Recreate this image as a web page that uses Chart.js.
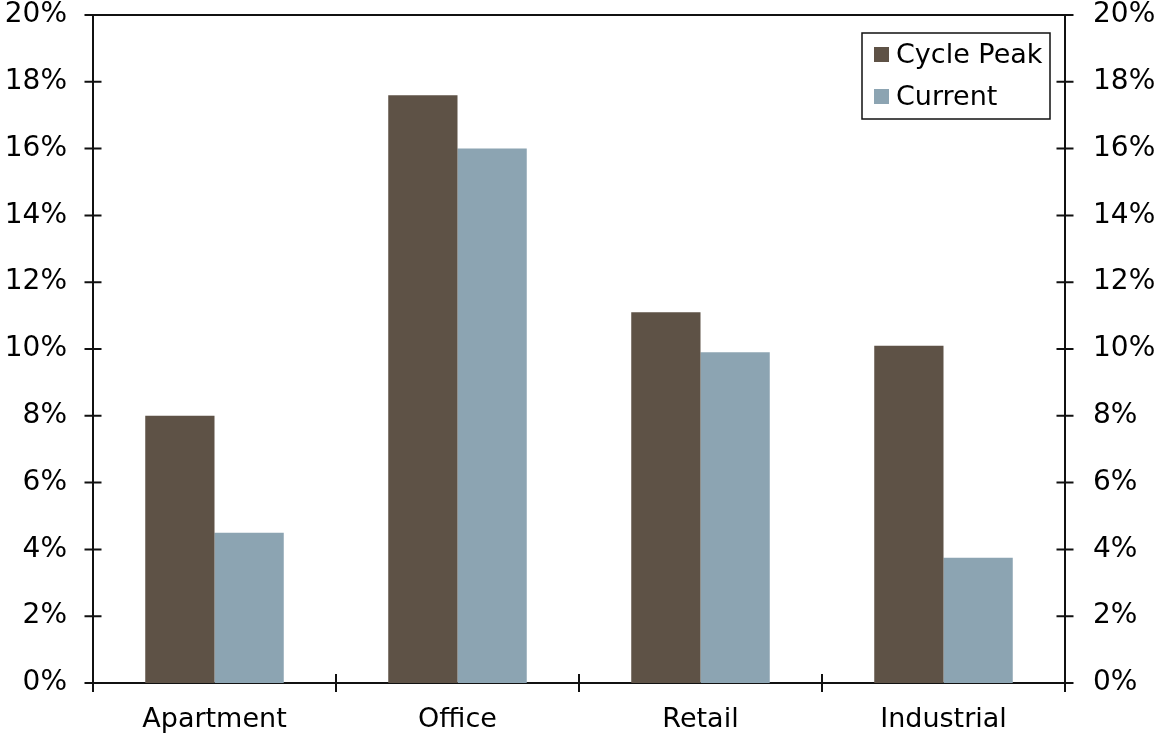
<!DOCTYPE html>
<html>
<head>
<meta charset="utf-8">
<title>Vacancy: Cycle Peak vs Current</title>
<script src="https://cdn.jsdelivr.net/npm/chart.js@4/dist/chart.umd.min.js"></script>
<style>
  html, body { margin: 0; padding: 0; background: #fff; }
  #wrap { width: 1157px; height: 735px; }
</style>
</head>
<body>
<div id="wrap"><canvas id="vacancyChart"></canvas></div>
<script>
const categories = ['Apartment', 'Office', 'Retail', 'Industrial'];
const cyclePeak = [8.0, 17.6, 11.1, 10.1];
const current = [4.5, 16.0, 9.9, 3.75];
const seriesNames = ['Cycle Peak', 'Current'];
const seriesColors = ['#5e5246', '#8ca4b2'];

const FONT = '"DejaVu Sans", Verdana, sans-serif';
const LINE = '#111';

// ticks that cross the axis lines, plus the top edge of the frame
const crossTicks = {
  id: 'crossTicks',
  afterDraw(chart) {
    const ctx = chart.ctx;
    const a = chart.chartArea;
    ctx.save();
    ctx.strokeStyle = LINE;
    ctx.lineWidth = 2;
    ctx.beginPath();
    ctx.moveTo(a.left, a.top);
    ctx.lineTo(a.right, a.top);
    const y = chart.scales.y;
    y.ticks.forEach((t, i) => {
      const py = y.getPixelForTick(i);
      ctx.moveTo(a.left - 8.5, py); ctx.lineTo(a.left + 8.5, py);
      ctx.moveTo(a.right - 8.5, py); ctx.lineTo(a.right + 8.5, py);
    });
    for (let i = 0; i <= categories.length; i++) {
      const px = a.left + (a.right - a.left) * i / categories.length;
      ctx.moveTo(px, a.bottom - 9); ctx.lineTo(px, a.bottom + 9);
    }
    ctx.stroke();
    ctx.restore();
  }
};

// boxed legend in the upper right of the plot
const boxLegend = {
  id: 'boxLegend',
  afterDraw(chart) {
    const ctx = chart.ctx;
    const a = chart.chartArea;
    const w = 188, h = 86;
    const x0 = a.right - 15 - w, y0 = a.top + 18;
    ctx.save();
    ctx.fillStyle = '#fff';
    ctx.fillRect(x0, y0, w, h);
    ctx.strokeStyle = LINE;
    ctx.lineWidth = 1.5;
    ctx.strokeRect(x0, y0, w, h);
    ctx.font = '27px ' + FONT;
    ctx.textBaseline = 'middle';
    chart.data.datasets.forEach((ds, i) => {
      const cy = y0 + 21.5 + i * 42;
      ctx.fillStyle = ds.backgroundColor;
      ctx.fillRect(x0 + 12, cy - 7.5, 15, 15);
      ctx.fillStyle = '#000';
      ctx.fillText(ds.label, x0 + 34, cy + 1);
    });
    ctx.restore();
  }
};

const yTicks = {
  stepSize: 2,
  color: '#000',
  font: { family: FONT, size: 28 },
  callback: v => v + '%'
};

// fixed axis sizes so the plot box lands in the same place every time
function fixWidth(w) {
  return s => { s.width = w; s.paddingTop = 0; s.paddingBottom = 0; };
}

new Chart(document.getElementById('vacancyChart'), {
  type: 'bar',
  data: {
    labels: categories,
    datasets: [
      { label: seriesNames[0], data: cyclePeak, backgroundColor: seriesColors[0], borderWidth: 0, yAxisID: 'y' },
      { label: seriesNames[1], data: current, backgroundColor: seriesColors[1], borderWidth: 0, yAxisID: 'y' }
    ]
  },
  options: {
    responsive: true,
    maintainAspectRatio: false,
    animation: false,
    datasets: { bar: { categoryPercentage: 0.57, barPercentage: 1.0 } },
    layout: { padding: { top: 15, left: 0, right: 0, bottom: 0 } },
    plugins: {
      legend: { display: false },
      tooltip: { enabled: false }
    },
    scales: {
      x: {
        grid: { display: false, drawTicks: false },
        border: { display: true, color: LINE, width: 2 },
        ticks: { color: '#000', padding: 21, font: { family: FONT, size: 27 } },
        afterFit: s => { s.height = 52; s.paddingLeft = 0; s.paddingRight = 0; }
      },
      y: {
        position: 'left',
        min: 0, max: 20,
        grid: { display: false, drawTicks: false },
        border: { display: true, color: LINE, width: 2 },
        ticks: Object.assign({ padding: 26 }, yTicks),
        afterFit: fixWidth(93)
      },
      y2: {
        position: 'right',
        min: 0, max: 20,
        grid: { display: false, drawTicks: false },
        border: { display: true, color: LINE, width: 2 },
        ticks: Object.assign({ padding: 28 }, yTicks),
        afterFit: fixWidth(92)
      }
    }
  },
  plugins: [crossTicks, boxLegend]
});
</script>
</body>
</html>
